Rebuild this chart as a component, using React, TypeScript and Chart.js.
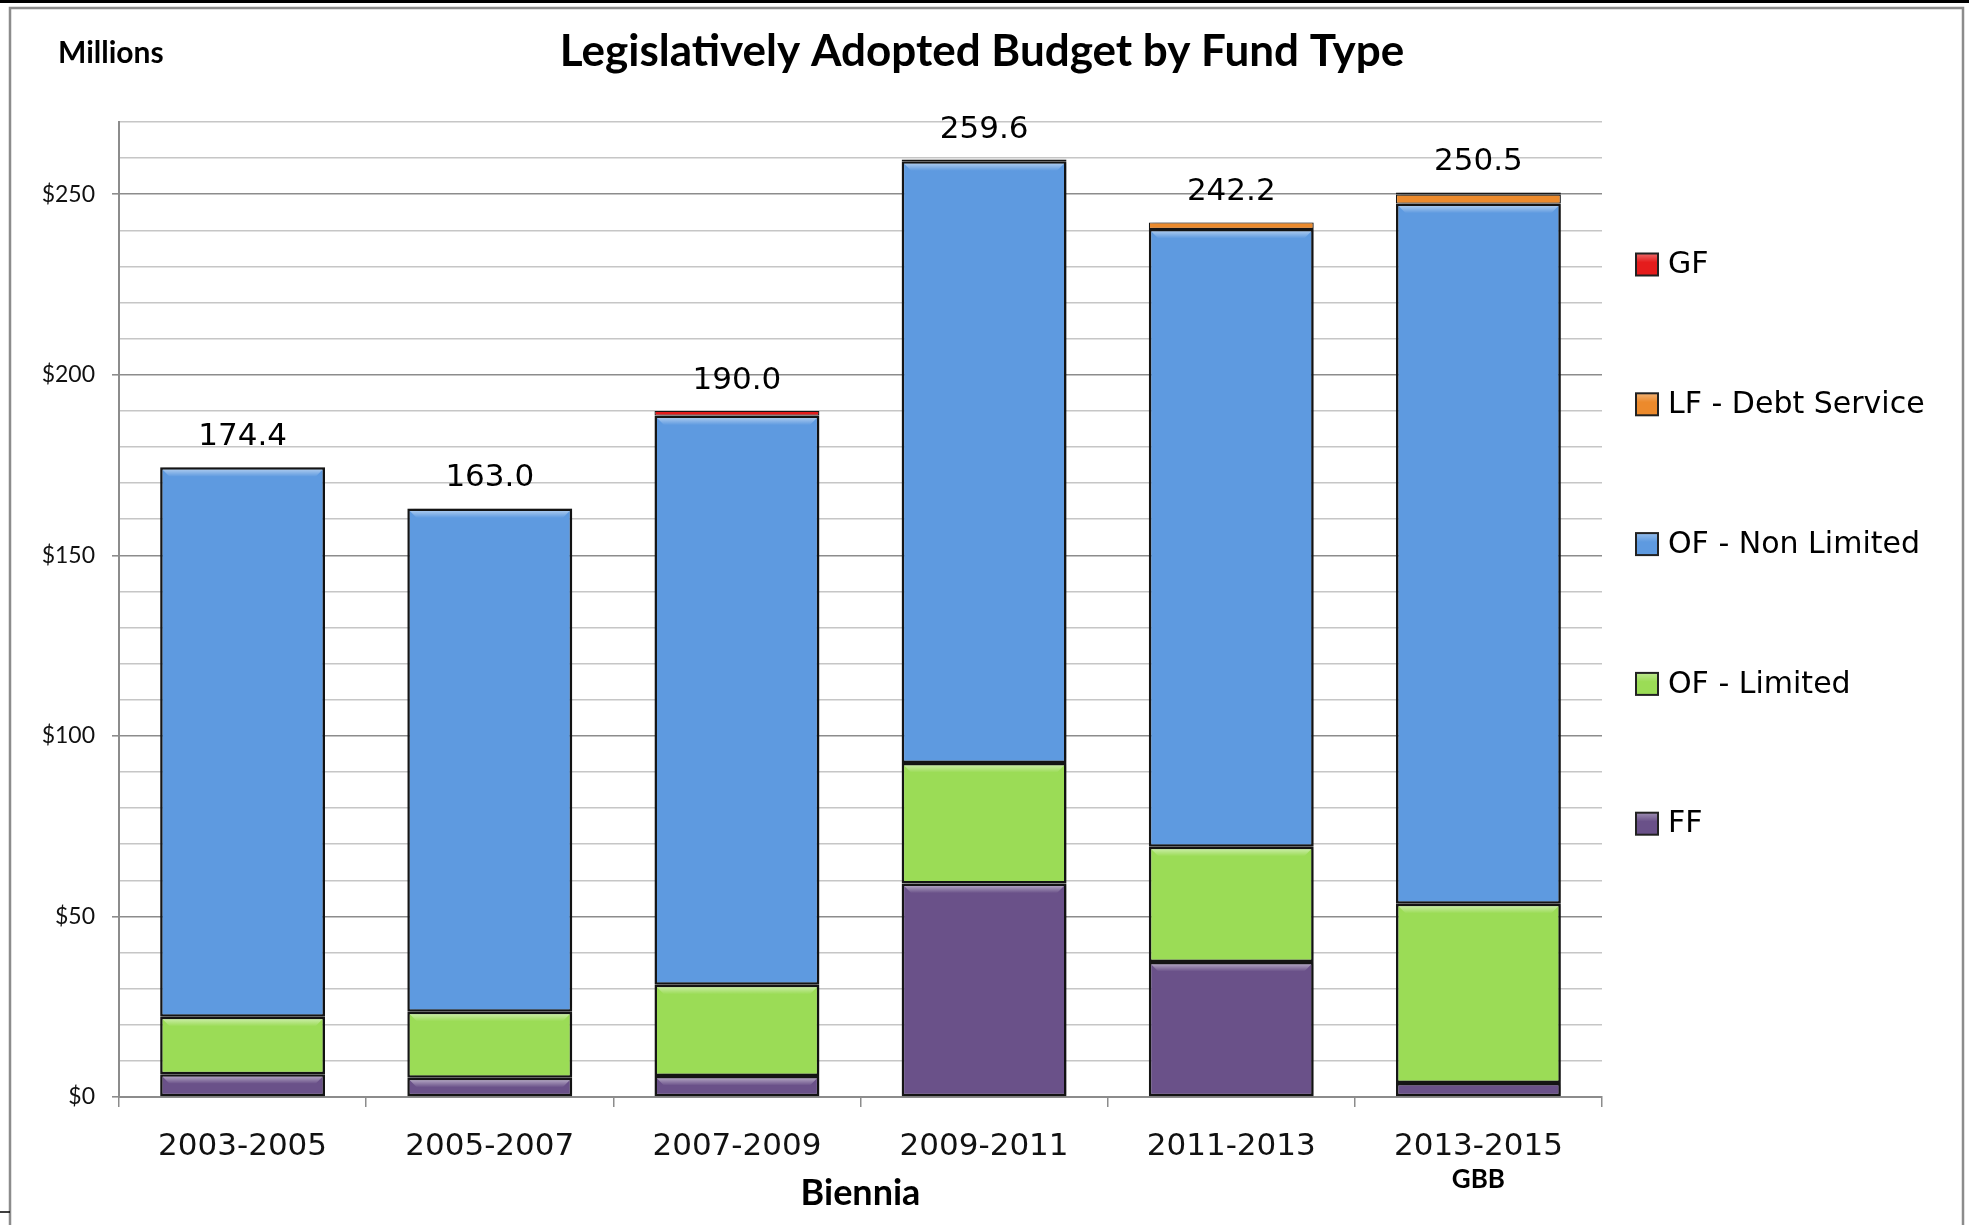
import React, { useEffect, useRef } from 'react';
import { Chart, registerables } from 'chart.js';

Chart.register(...registerables);

// ---- Data (millions of dollars) ----
const categories = ['2003-2005', '2005-2007', '2007-2009', '2009-2011', '2011-2013', '2013-2015'];
const ffValues = [6.3, 5.3, 5.8, 59.1, 37.4, 3.9];
const ofLimitedValues = [15.9, 18.3, 25.3, 33.4, 31.9, 49.6];
const ofNonLimitedValues = [152.2, 139.4, 157.6, 166.6, 171.1, 193.9];
const lfDebtValues = [0, 0, 0, 0.5, 1.8, 2.5];
const gfValues = [0, 0, 1.3, 0, 0, 0.6];
const totalLabels = ['174.4', '163.0', '190.0', '259.6', '242.2', '250.5'];
const seriesNames = ['FF', 'OF - Limited', 'OF - Non Limited', 'LF - Debt Service', 'GF'];
const seriesColors = ['#6a5189', '#9bdc56', '#5e9ae0', '#ec8a2c', '#e51c1c'];
const yMajorStep = 50;
const yMinorStep = 10;
const yMax = 270;
const chartTitle = 'Legislatively Adopted Budget by Fund Type';
const unitLabel = 'Millions';
const xAxisTitle = 'Biennia';
const lastCategoryNote = 'GBB';

const W = 1969;
const H = 1225;

const decorPlugin = {
  id: 'decor',
  beforeDraw(chart: any) {
    const ctx = chart.ctx;
    ctx.save();
    ctx.fillStyle = '#ffffff';
    ctx.fillRect(0, 0, W, H);
    // frame
    ctx.fillStyle = '#000000';
    ctx.fillRect(0, 0, W, 3);
    ctx.strokeStyle = '#8c8c8c';
    ctx.lineWidth = 2.5;
    ctx.beginPath();
    ctx.moveTo(10, H);
    ctx.lineTo(10, 8);
    ctx.lineTo(1963, 8);
    ctx.lineTo(1963, H);
    ctx.stroke();
    ctx.strokeStyle = '#000';
    ctx.lineWidth = 1.5;
    ctx.beginPath();
    ctx.moveTo(0, 1212);
    ctx.lineTo(10, 1212);
    ctx.stroke();
    ctx.restore();
  },
  beforeDatasetsDraw(chart: any) {
    const ctx = chart.ctx;
    ctx.save();
    ctx.shadowColor = 'rgba(0,0,0,0.28)';
    ctx.shadowBlur = 5;
    ctx.shadowOffsetX = 3;
    ctx.shadowOffsetY = 0;
  },
  afterDatasetsDraw(chart: any) {
    const ctx = chart.ctx;
    ctx.restore();
    // bevel highlights on each segment
    ctx.save();
    chart.data.datasets.forEach((ds: any, di: number) => {
      const meta = chart.getDatasetMeta(di);
      meta.data.forEach((bar: any) => {
        const props = bar.getProps(['x', 'y', 'base', 'width'], true);
        const top = Math.min(props.y, props.base);
        const h = Math.abs(props.base - props.y);
        if (h < 14) return;
        const left = props.x - props.width / 2 + 2.5;
        const right = props.x + props.width / 2 - 2.5;
        const bh = 7;
        const g = ctx.createLinearGradient(0, top + 2.5, 0, top + 2.5 + bh);
        g.addColorStop(0, 'rgba(255,255,255,0.45)');
        g.addColorStop(1, 'rgba(255,255,255,0)');
        ctx.fillStyle = g;
        ctx.beginPath();
        ctx.moveTo(left, top + 2.5);
        ctx.lineTo(right, top + 2.5);
        ctx.lineTo(right - bh, top + 2.5 + bh);
        ctx.lineTo(left + bh, top + 2.5 + bh);
        ctx.closePath();
        ctx.fill();
      });
    });
    ctx.restore();
  },
  afterDraw(chart: any) {
    const ctx = chart.ctx;
    const xs = chart.scales.x;
    const ys = chart.scales.y;
    const area = chart.chartArea;
    ctx.save();
    // title
    ctx.fillStyle = '#000';
    ctx.textAlign = 'center';
    ctx.textBaseline = 'middle';
    ctx.font = 'bold 44px Lato';
    ctx.fillText(chartTitle, 982, 52);
    // unit label
    ctx.textAlign = 'left';
    ctx.font = 'bold 30px Lato';
    ctx.fillText(unitLabel, 58, 53);
    // x-axis title
    ctx.textAlign = 'center';
    ctx.font = 'bold 36px Lato';
    ctx.fillText(xAxisTitle, (area.left + area.right) / 2, 1193);
    // note under last category
    ctx.font = 'bold 26px Lato';
    ctx.fillText(lastCategoryNote, xs.getPixelForValue(categories.length - 1), 1180);
    // totals above the bars
    ctx.font = '31px "DejaVu Sans"';
    categories.forEach((_c, i) => {
      const total = ffValues[i] + ofLimitedValues[i] + ofNonLimitedValues[i] + lfDebtValues[i] + gfValues[i];
      const x = xs.getPixelForValue(i);
      const y = ys.getPixelForValue(total) - 30;
      ctx.fillText(totalLabels[i], x, y);
    });
    // legend (reverse of stack order)
    const order = [4, 3, 2, 1, 0];
    ctx.textAlign = 'left';
    ctx.font = '30px "DejaVu Sans"';
    order.forEach((di, k) => {
      const cy = 264.5 + k * 139.8;
      ctx.fillStyle = seriesColors[di];
      ctx.fillRect(1636, cy - 11, 22, 22);
      const g = ctx.createLinearGradient(0, cy - 11, 0, cy + 11);
      g.addColorStop(0, 'rgba(255,255,255,0.35)');
      g.addColorStop(0.4, 'rgba(255,255,255,0)');
      ctx.fillStyle = g;
      ctx.fillRect(1636, cy - 11, 22, 22);
      ctx.strokeStyle = '#222';
      ctx.lineWidth = 2;
      ctx.strokeRect(1636, cy - 11, 22, 22);
      ctx.fillStyle = '#000';
      ctx.fillText(seriesNames[di], 1668, cy + 1);
    });
    ctx.restore();
  },
};

export default function App() {
  const canvasRef = useRef<HTMLCanvasElement | null>(null);

  useEffect(() => {
    document.body.style.margin = '0';
    const canvas = canvasRef.current;
    if (!canvas) return;
    const valueSets = [ffValues, ofLimitedValues, ofNonLimitedValues, lfDebtValues, gfValues];
    const chart = new Chart(canvas, {
      type: 'bar',
      data: {
        labels: categories,
        datasets: valueSets.map((vals, i) => ({
          label: seriesNames[i],
          data: vals.map((v) => (v === 0 ? null : v)),
          backgroundColor: seriesColors[i],
          borderColor: '#161616',
          borderWidth: i >= 3 ? 1.2 : 2.5,
          borderSkipped: false,
          categoryPercentage: 1,
          barPercentage: 0.667,
        })),
      },
      options: {
        responsive: false,
        animation: false,
        devicePixelRatio: 1,
        layout: { padding: { left: 0, right: W - 1602, top: 122, bottom: 0 } },
        plugins: {
          legend: { display: false },
          tooltip: { enabled: false },
          title: { display: false },
        },
        scales: {
          x: {
            stacked: true,
            afterFit: (s: any) => {
              s.height = H - 1097;
            },
            grid: {
              display: true,
              drawOnChartArea: false,
              drawTicks: true,
              offset: true,
              tickLength: 10,
              color: '#8c8c8c',
              lineWidth: 1.5,
            },
            border: { display: true, color: '#8c8c8c', width: 2 },
            ticks: {
              font: { family: 'DejaVu Sans', size: 31 },
              color: '#111',
              padding: 21,
              maxRotation: 0,
              autoSkip: false,
            },
          },
          y: {
            stacked: true,
            min: 0,
            max: yMax,
            afterFit: (s: any) => {
              s.width = 119;
            },
            grid: {
              color: (c: any) => (c.tick && c.tick.value % yMajorStep === 0 ? '#8c8c8c' : '#c6c6c6'),
              tickColor: (c: any) => (c.tick && c.tick.value % yMajorStep === 0 ? '#8c8c8c' : 'rgba(0,0,0,0)'),
              lineWidth: 1.6,
              tickLength: 7,
            },
            border: { display: true, color: '#8c8c8c', width: 2 },
            ticks: {
              stepSize: yMinorStep,
              autoSkip: false,
              padding: 17,
              color: '#111',
              font: { family: 'Lato', size: 23 },
              callback: (v: any) => (Number(v) % yMajorStep === 0 ? '$' + v : ''),
            },
          },
        },
      },
      plugins: [decorPlugin],
    });
    return () => chart.destroy();
  }, []);

  return (
    <div style={{ position: 'absolute', left: 0, top: 0, width: W, height: H, background: '#fff' }}>
      <canvas ref={canvasRef} width={W} height={H} style={{ width: W, height: H, display: 'block' }} />
    </div>
  );
}
